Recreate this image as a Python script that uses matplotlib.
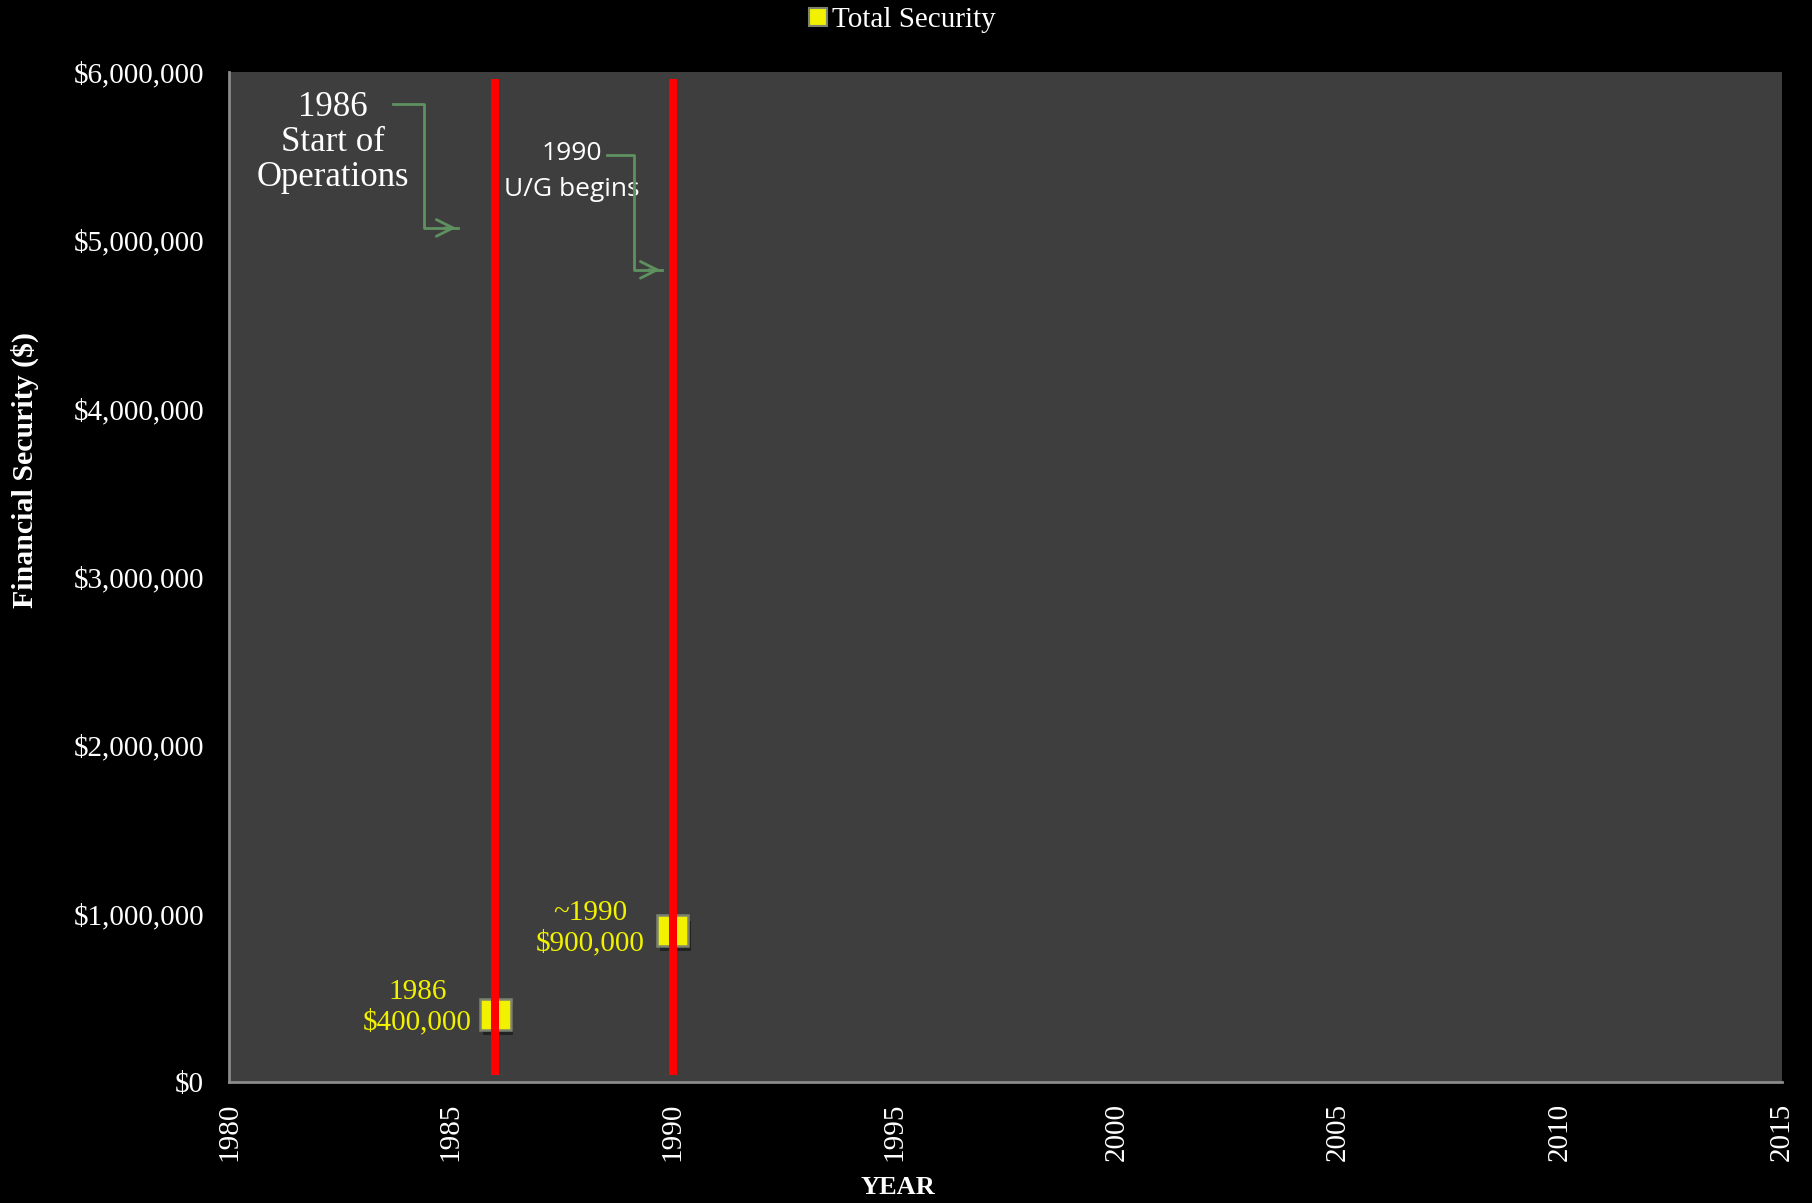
import matplotlib
matplotlib.use("Agg")
import matplotlib.pyplot as plt
import matplotlib.patheffects as pe
from matplotlib.lines import Line2D
from matplotlib.ticker import FuncFormatter

# ---- data ----
years = [1986, 1990]
security = [400000, 900000]
event_years = [1986, 1990]
point_labels = ["1986\n$400,000", "~1990\n$900,000"]
x_ticks = [1980, 1985, 1990, 1995, 2000, 2005, 2010, 2015]
y_ticks = [0, 1000000, 2000000, 3000000, 4000000, 5000000, 6000000]

SERIF = ["Liberation Serif", "DejaVu Serif"]
SANS = ["Open Sans", "DejaVu Sans"]
YELLOW = "#f2f200"

fig = plt.figure(figsize=(18.12, 12.03), dpi=100, facecolor="black")
ax = fig.add_axes([0.1264, 0.1006, 0.9834 - 0.1264, 0.9401 - 0.1006])
ax.set_facecolor("#3e3e3e")

ax.set_xlim(1980, 2015)
ax.set_ylim(0, 6000000)
ax.set_xticks(x_ticks)
ax.set_yticks(y_ticks)
ax.yaxis.set_major_formatter(FuncFormatter(lambda v, p: "${:,.0f}".format(v)))
ax.tick_params(length=0, colors="white", labelsize=21)
ax.tick_params(axis="y", pad=18)
ax.tick_params(axis="x", pad=15)
for lab in ax.get_xticklabels():
    lab.set_rotation(90)
    lab.set_family(SERIF)
for lab in ax.get_yticklabels():
    lab.set_family(SERIF)
for s in ["top", "right"]:
    ax.spines[s].set_visible(False)
for s in ["left", "bottom"]:
    ax.spines[s].set_color("#8a8a8a")
    ax.spines[s].set_linewidth(2)

# red event lines (drawn above the markers)
for ey in event_years:
    ax.axvline(ey, ymin=0.007, ymax=0.993, color="#ff0000", lw=5.8,
               solid_capstyle="butt", zorder=4)

# markers
ax.plot(years, security, linestyle="none", marker="s", markersize=22,
        markerfacecolor=YELLOW, markeredgecolor="#7c8470", markeredgewidth=1.8,
        zorder=3,
        path_effects=[pe.SimplePatchShadow(offset=(2, -4), shadow_rgbFace="black", alpha=0.45),
                      pe.Normal()])

# point labels
label_pos = [(1984.24, 446000), (1988.15, 912000)]
for (lx, ly), t in zip(label_pos, point_labels):
    ax.text(lx, ly, t, color=YELLOW, fontsize=21,
            family=SERIF, ha="center", va="center", linespacing=1.2, zorder=5)

# event annotations
ax.text(1982.35, 5.58e6, "1986\nStart of\nOperations", color="white", fontsize=25,
        family=SERIF, ha="center", va="center", linespacing=1.08)
ax.text(1987.72, 5.41e6, "1990\nU/G begins", color="white", fontsize=19,
        family=SANS, ha="center", va="center", linespacing=1.55)

green = "#5f9060"
ax.plot([1983.70, 1984.39, 1984.39, 1985.16], [5.811e6, 5.811e6, 5.074e6, 5.074e6],
        color=green, lw=2, zorder=3)
ax.annotate("", xy=(1985.18, 5.074e6), xytext=(1984.8, 5.074e6),
            arrowprops=dict(arrowstyle="->", color=green, lw=2, mutation_scale=30))
ax.plot([1988.52, 1989.13, 1989.13, 1989.76], [5.508e6, 5.508e6, 4.825e6, 4.825e6],
        color=green, lw=2, zorder=3)
ax.annotate("", xy=(1989.78, 4.825e6), xytext=(1989.4, 4.825e6),
            arrowprops=dict(arrowstyle="->", color=green, lw=2, mutation_scale=30))

# axis labels
fig.text(25 / 1812, 1 - 470 / 1203, "Financial Security ($)", rotation=90, color="white",
         fontsize=21.5, fontweight="bold", family=SERIF, ha="center", va="center")
fig.text(898 / 1812, 1 - 1188 / 1203, "YEAR", color="white", fontsize=19,
         fontweight="bold", family=SERIF, ha="center", va="center")

# legend
handle = Line2D([], [], linestyle="none", marker="s", markersize=13,
                markerfacecolor=YELLOW, markeredgecolor="#7c8470", markeredgewidth=1.5)
leg = fig.legend([handle], ["Total Security"], loc="center", bbox_to_anchor=(0.498, 1 - 20 / 1203),
                 frameon=False, handlelength=0.6, handletextpad=0.2,
                 prop={"family": SERIF, "size": 21})
for t in leg.get_texts():
    t.set_color("white")

fig.savefig("out.png", dpi=100, facecolor="black")
